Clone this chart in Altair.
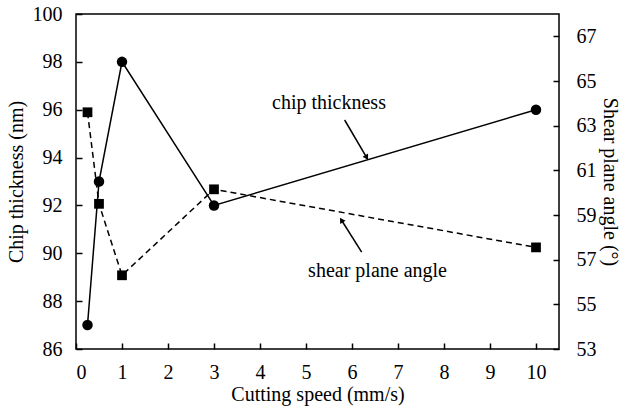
import altair as alt
import pandas as pd

speed = [0.25, 0.5, 1, 3, 10]
chip_thickness = [87, 93, 98, 92, 96]
shear_angle = [63.6, 59.5, 56.3, 60.15, 57.55]

x_ticks = list(range(0, 11))
left_ticks = list(range(86, 101, 2))
right_ticks = list(range(53, 68, 2))

label_text = ["chip thickness", "shear plane angle"]
label_x = [5.50, 6.555]
label_y = [96.28, 89.26]

arrow_x = [5.84, 6.21]
arrow_y = [95.57, 90.05]
arrow_x2 = [6.32, 5.77]
arrow_y2 = [94.0, 91.39]
arrow_angle = [150, 328]

FONT = "'Liberation Serif', 'Times New Roman', serif"
FS = 20

df = pd.DataFrame({"speed": speed, "chip": chip_thickness, "shear": shear_angle})
labels = pd.DataFrame({"text": label_text, "x": label_x, "y": label_y})
arrows = pd.DataFrame({"x": arrow_x, "y": arrow_y, "x2": arrow_x2, "y2": arrow_y2, "angle": arrow_angle})

xscale = alt.Scale(domain=[0, 10.5], nice=False, zero=False)
lscale = alt.Scale(domain=[86, 100], nice=False, zero=False)
rscale = alt.Scale(domain=[53, 68], nice=False, zero=False)

common = dict(domain=False, offset=-6, tickSize=6, tickColor="black", tickWidth=1.5,
              labelFont=FONT, labelFontSize=FS, labelColor="black",
              titleFont=FONT, titleFontSize=FS, titleFontWeight="normal", titleColor="black",
              grid=False)

xaxis = alt.Axis(values=x_ticks, title="Cutting speed (mm/s)", labelPadding=13, titlePadding=2, **common)
laxis = alt.Axis(values=left_ticks, title="Chip thickness (nm)", labelPadding=14, titlePadding=6, **common)
raxis = alt.Axis(values=right_ticks, title="Shear plane angle (°)", labelPadding=17, titlePadding=3, orient="right", **common)

base = alt.Chart(df)

def X(f):
    return alt.X(f, scale=xscale, axis=xaxis, title="Cutting speed (mm/s)")

def YL(f):
    return alt.Y(f, scale=lscale, axis=laxis, title="Chip thickness (nm)")

def YR(f):
    return alt.Y(f, scale=rscale, axis=raxis, title="Shear plane angle (°)")

chip_line = base.mark_line(color="black", strokeWidth=1.5).encode(x=X("speed:Q"), y=YL("chip:Q"))
chip_pts = base.mark_point(shape="circle", filled=True, color="black", size=110, opacity=1).encode(
    x=X("speed:Q"), y=YL("chip:Q"))
txt = alt.Chart(labels).mark_text(font=FONT, fontSize=FS, color="black").encode(
    x=X("x:Q"), y=YL("y:Q"), text="text:N")
shafts = alt.Chart(arrows).mark_rule(color="black", strokeWidth=1.5).encode(
    x=X("x:Q"), y=YL("y:Q"), x2="x2:Q", y2="y2:Q")
heads = alt.Chart(arrows).mark_point(shape="triangle-up", filled=True, color="black", size=40, opacity=1).encode(
    x=X("x2:Q"), y=YL("y2:Q"), angle=alt.Angle("angle:Q", scale=None))

left = alt.layer(chip_line, chip_pts, shafts, heads, txt)

shear_line = base.mark_line(color="black", strokeWidth=1.5, strokeDash=[6, 4]).encode(
    x=X("speed:Q"), y=YR("shear:Q"))
shear_pts = base.mark_point(shape="square", filled=True, color="black", size=95, opacity=1).encode(
    x=X("speed:Q"), y=YR("shear:Q"))
right = alt.layer(shear_line, shear_pts)

chart = alt.layer(left, right).resolve_scale(y="independent").properties(
    width=483, height=335,
    autosize=alt.AutoSizeParams(type="none"),
    padding={"left": 76, "top": 14, "right": 64, "bottom": 59},
    background="white",
).configure_view(stroke="black", strokeWidth=1.5).configure_axis(
    labelFont=FONT, titleFont=FONT, labelFontSize=FS, titleFontSize=FS,
    titleFontWeight="normal", labelColor="black", titleColor="black",
).configure_text(font=FONT)

chart.save("out.html", embed_options={"renderer": "svg", "actions": False})
